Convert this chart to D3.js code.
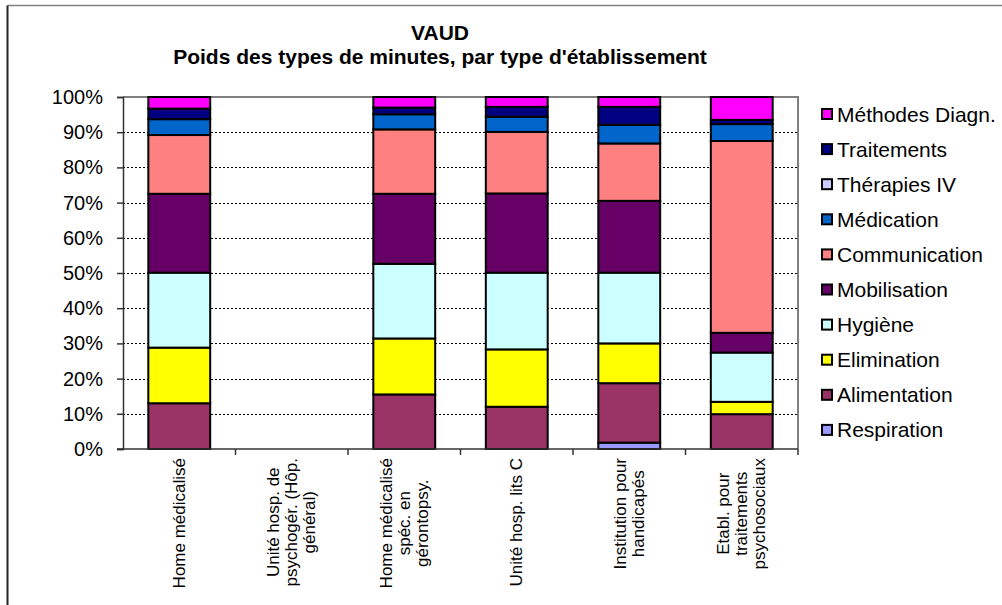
<!DOCTYPE html>
<html>
<head>
<meta charset="utf-8">
<script src="https://cdn.jsdelivr.net/npm/d3@7"></script>
<style>
  html, body { margin: 0; padding: 0; background: #fff; }
  svg { display: block; font-family: Arial, "Liberation Sans", sans-serif; }
</style>
</head>
<body>
<svg id="chart" width="1002" height="605"></svg>
<script>
// Establishment types (x categories); "\n" separates label lines
const categories = [
  "Home médicalisé",
  "Unité hosp. de\npsychogér. (Hôp.\ngénéral)",
  "Home médicalisé\nspéc. en\ngérontopsy.",
  "Unité hosp. lits C",
  "Institution pour\nhandicapés",
  "Etabl. pour\ntraitements\npsychosociaux"
];

// Share of each minute type per establishment (%), stacked bottom to top
const respiration   = [0,    0, 0,    0,    1.8,  0];
const alimentation  = [13.0, 0, 15.5, 12.0, 16.9, 9.9];
const elimination   = [15.8, 0, 15.9, 16.3, 11.3, 3.5];
const hygiene       = [21.3, 0, 21.2, 21.8, 20.1, 14.0];
const mobilisation  = [22.4, 0, 19.9, 22.5, 20.4, 5.6];
const communication = [16.7, 0, 18.3, 17.5, 16.3, 54.5];
const medication    = [4.5,  0, 4.3,  4.3,  5.3,  4.8];
const therapiesIV   = [0,    0, 0,    0,    0,    0];
const traitements   = [3.0,  0, 1.9,  2.8,  5.1,  1.2];
const methodes      = [3.3,  0, 3.0,  2.8,  2.8,  6.5];

const seriesNames  = ["Respiration", "Alimentation", "Elimination", "Hygiène", "Mobilisation",
                      "Communication", "Médication", "Thérapies IV", "Traitements", "Méthodes Diagn."];
const seriesValues = [respiration, alimentation, elimination, hygiene, mobilisation,
                      communication, medication, therapiesIV, traitements, methodes];
const seriesColors = ["#9999FF", "#993366", "#FFFF00", "#CCFFFF", "#660066",
                      "#FF8080", "#0066CC", "#CCCCFF", "#000080", "#FF00FF"];

const yTicks = [0, 10, 20, 30, 40, 50, 60, 70, 80, 90, 100];

const svg = d3.select("#chart");

// Outer chart frame
svg.append("line").attr("x1", 7.5).attr("x2", 1002).attr("y1", 5.5).attr("y2", 5.5)
  .attr("stroke", "#808080").attr("stroke-width", 1.5);
svg.append("line").attr("x1", 7.5).attr("x2", 7.5).attr("y1", 5.5).attr("y2", 605)
  .attr("stroke", "#222").attr("stroke-width", 2);

// Plot area
const plot = { left: 123, right: 798, top: 97, bottom: 449 };

const x = d3.scaleBand()
  .domain(d3.range(categories.length))
  .range([plot.left, plot.right])
  .paddingInner(0.45)
  .paddingOuter(0.225);

const y = d3.scaleLinear().domain([0, 100]).range([plot.bottom, plot.top]);

// Title
const title = svg.append("text").attr("text-anchor", "middle")
  .attr("font-weight", "bold").attr("font-size", 21).attr("fill", "#000");
title.append("tspan").attr("x", 440).attr("y", 40).text("VAUD");
title.append("tspan").attr("x", 440).attr("y", 64)
  .text("Poids des types de minutes, par type d'établissement");

// Gridlines (dotted)
svg.append("g")
  .selectAll("line")
  .data(yTicks.filter(t => t > 0 && t < 100))
  .join("line")
  .attr("x1", plot.left).attr("x2", plot.right)
  .attr("y1", d => Math.round(y(d)) + 0.5).attr("y2", d => Math.round(y(d)) + 0.5)
  .attr("stroke", "#000").attr("stroke-width", 1)
  .attr("stroke-dasharray", "2,2");

// Plot border (top and right)
svg.append("path")
  .attr("d", `M${plot.left},${plot.top}H${plot.right}V${plot.bottom}`)
  .attr("fill", "none").attr("stroke", "#808080").attr("stroke-width", 2);

// Stacked bars
const rows = categories.map((c, i) => {
  const r = { idx: i };
  seriesNames.forEach((s, k) => { r[s] = seriesValues[k][i]; });
  return r;
});
const stacked = d3.stack().keys(seriesNames)(rows);

svg.append("g")
  .selectAll("g")
  .data(stacked)
  .join("g")
  .attr("fill", (d, k) => seriesColors[k])
  .selectAll("rect")
  .data(d => d.filter(p => p[1] - p[0] > 0))
  .join("rect")
  .attr("x", d => x(d.data.idx))
  .attr("width", x.bandwidth())
  .attr("y", d => y(d[1]))
  .attr("height", d => y(d[0]) - y(d[1]))
  .attr("stroke", "#000").attr("stroke-width", 2);

// Y axis
const yAxis = d3.axisLeft(y)
  .tickValues(yTicks)
  .tickFormat(d => d + "%")
  .tickSize(6)
  .tickPadding(14);
const gy = svg.append("g").attr("transform", `translate(${plot.left},0)`).call(yAxis);
gy.select(".domain").attr("stroke", "#333").attr("stroke-width", 1.5);
gy.selectAll(".tick line").attr("stroke", "#333").attr("stroke-width", 1.5);
gy.selectAll(".tick text").attr("font-size", 20).attr("fill", "#000")
  .attr("font-family", "Arial, 'Liberation Sans', sans-serif");

// X axis line and category boundary ticks
svg.append("line").attr("x1", plot.left - 6).attr("x2", plot.right)
  .attr("y1", plot.bottom).attr("y2", plot.bottom)
  .attr("stroke", "#333").attr("stroke-width", 1.5);
svg.append("g")
  .selectAll("line")
  .data(d3.range(1, categories.length + 1))
  .join("line")
  .attr("x1", k => plot.left + x.step() * k).attr("x2", k => plot.left + x.step() * k)
  .attr("y1", plot.bottom).attr("y2", plot.bottom + 6)
  .attr("stroke", "#333").attr("stroke-width", 1.5);

// Rotated category labels
const labelTop = 458;
const lineGap = 18;
categories.forEach((c, i) => {
  const lines = c.split("\n");
  const cx = x(i) + x.bandwidth() / 2;
  const g = svg.append("g");
  const texts = lines.map((ln, j) => {
    const off = (j - (lines.length - 1) / 2) * lineGap;
    return g.append("text")
      .attr("font-size", 17).attr("fill", "#000")
      .attr("text-anchor", "middle")
      .attr("dominant-baseline", "central")
      .attr("data-off", cx + off)
      .text(ln);
  });
  const maxLen = d3.max(texts, t => t.node().getComputedTextLength());
  const midY = labelTop + maxLen / 2;
  texts.forEach(t => {
    const px = +t.attr("data-off");
    t.attr("transform", `translate(${px},${midY}) rotate(-90)`);
  });
});

// Legend (top entry is the top of the stack)
const legendOrder = d3.range(seriesNames.length).reverse();
const legend = svg.append("g");
legendOrder.forEach((k, row) => {
  const cy = 114 + row * 35.1;
  legend.append("rect")
    .attr("x", 822).attr("y", cy - 5).attr("width", 10).attr("height", 10)
    .attr("fill", seriesColors[k]).attr("stroke", "#000").attr("stroke-width", 2);
  legend.append("text")
    .attr("x", 837).attr("y", cy + 7.5)
    .attr("font-size", 21).attr("fill", "#000")
    .text(seriesNames[k]);
});
</script>
</body>
</html>
